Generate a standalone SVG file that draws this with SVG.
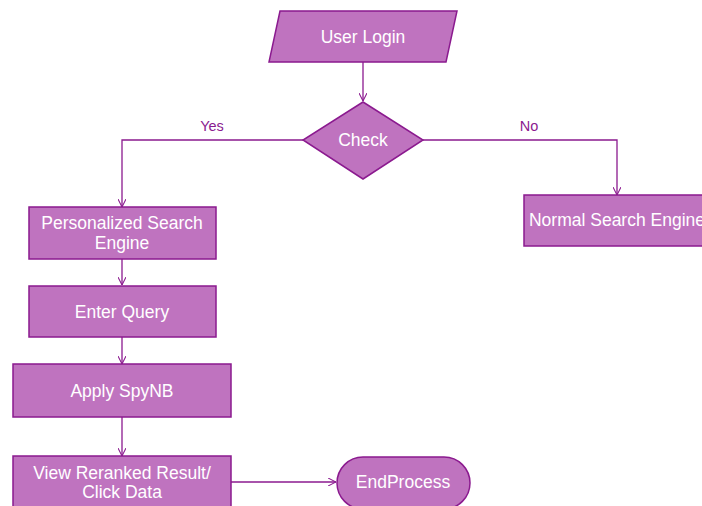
<svg xmlns="http://www.w3.org/2000/svg" width="702" height="506" viewBox="0 0 702 506">
  <defs>
    <marker id="arrow" viewBox="0 0 10 10" refX="10" refY="5" markerWidth="8" markerHeight="8" markerUnits="userSpaceOnUse" orient="auto">
      <path d="M0,0 L10,5 L0,10" fill="none" stroke="#8B1A8F" stroke-width="1.3"/>
    </marker>
  </defs>
  <style>
    .shape { fill: #BF73BF; stroke: #8B1A8F; stroke-width: 1.5; }
    .label { font-family: "Liberation Sans", Arial, sans-serif; font-size: 17.5px; fill: #FFFFFF; text-anchor: middle; }
    .edge { fill: none; stroke: #8B1A8F; stroke-width: 1.3; marker-end: url(#arrow); }
    .edge-label { font-family: "Liberation Sans", Arial, sans-serif; font-size: 14.5px; fill: #8B1A8F; text-anchor: middle; }
  </style>
  <rect width="702" height="506" fill="#FFFFFF"/>

  <g id="connectors">
    <path class="edge" d="M363,62 L363,101"/>
    <path class="edge" d="M303,140 L122,140 L122,207"/>
    <path class="edge" d="M423,140 L617,140 L617,195"/>
    <path class="edge" d="M122,259 L122,285"/>
    <path class="edge" d="M122,337 L122,364"/>
    <path class="edge" d="M122,417 L122,456"/>
    <path class="edge" d="M231,482 L336,482"/>
    <text class="edge-label" x="212" y="131">Yes</text>
    <text class="edge-label" x="529" y="131">No</text>
  </g>

  <g id="user-login">
    <polygon class="shape" points="280,11 457,11 446,62 269,62"/>
    <text class="label" x="363" y="43">User Login</text>
  </g>

  <g id="check">
    <polygon class="shape" points="363,102 423,140 363,179 303,140"/>
    <text class="label" x="363" y="146">Check</text>
  </g>

  <g id="personalized-search-engine">
    <rect class="shape" x="29" y="207" width="187" height="52"/>
    <text class="label" x="122" y="229">Personalized Search</text>
    <text class="label" x="122" y="249">Engine</text>
  </g>

  <g id="normal-search-engine">
    <rect class="shape" x="524" y="195" width="190" height="51"/>
    <text class="label" x="617" y="226">Normal Search Engine</text>
  </g>

  <g id="enter-query">
    <rect class="shape" x="29" y="286" width="187" height="51"/>
    <text class="label" x="122" y="318">Enter Query</text>
  </g>

  <g id="apply-spynb">
    <rect class="shape" x="13" y="364" width="218" height="53"/>
    <text class="label" x="122" y="397">Apply SpyNB</text>
  </g>

  <g id="view-reranked-result">
    <rect class="shape" x="13" y="456" width="218" height="56"/>
    <text class="label" x="122" y="479">View Reranked Result/</text>
    <text class="label" x="122" y="498">Click Data</text>
  </g>

  <g id="end-process">
    <rect class="shape" x="337" y="457" width="133" height="52" rx="26" ry="26"/>
    <text class="label" x="403" y="488">EndProcess</text>
  </g>
</svg>
